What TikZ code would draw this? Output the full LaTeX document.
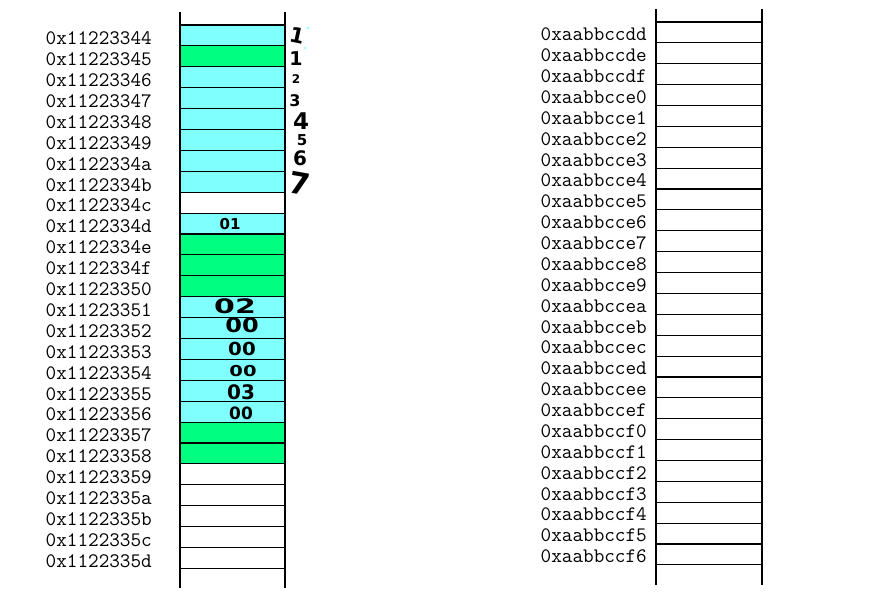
\documentclass[tikz,border=0pt]{standalone}
\usepackage{fontspec}
\newfontfamily\hand{DejaVu Sans}
\usetikzlibrary{positioning}
\definecolor{cellcyan}{HTML}{80FFFF}
\definecolor{cellgreen}{HTML}{00FF80}

\begin{document}
\begin{tikzpicture}[x=1pt, y=-1pt,
				cell/.style={draw, line width=1.1pt, minimum width=105pt, minimum height=20.9pt, inner sep=0pt, outer sep=0pt},
				addr/.style={font=\fontsize{20.6}{22}\ttfamily, inner sep=0pt},
				scrawl/.style={font=\hand\bfseries\fontsize{#1}{#1}\selectfont, inner sep=0pt},
				dot/.style={circle, fill=cellcyan, inner sep=0pt, minimum size=2.5pt}]
				\useasboundingbox (0,0) rectangle (876,597);
				\foreach \s/\c [count=\i from 0] in {44/cellcyan, 45/cellgreen, 46/cellcyan, 47/cellcyan, 48/cellcyan, 49/cellcyan, 4a/cellcyan, 4b/cellcyan, 4c/white, 4d/cellcyan, 4e/cellgreen, 4f/cellgreen, 50/cellgreen, 51/cellcyan, 52/cellcyan, 53/cellcyan, 54/cellcyan, 55/cellcyan, 56/cellcyan, 57/cellgreen, 58/cellgreen, 59/white, 5a/white, 5b/white, 5c/white, 5d/white}
				{
					\node[cell, fill=\c] (L\i) at (232.5, {35.45+20.9*\i}) {};
					\node[addr, left=28pt of L\i, yshift=-3pt] (la\i) {0x112233\s};
				}
				\foreach \s [count=\i from 0] in {dd, de, df, e0, e1, e2, e3, e4, e5, e6, e7, e8, e9, ea, eb, ec, ed, ee, ef, f0, f1, f2, f3, f4, f5, f6}
				{
					\node[cell, minimum width=106pt, minimum height=20.88pt] (R\i) at (709, {32.44+20.88*\i}) {};
					\node[addr, left=9pt of R\i, yshift=-2pt] (ra\i) {0xaabbcc\s};
				}
				\draw[line width=1.1pt] (L0.north west) -- ++(0,-13) (L0.north east) -- ++(0,-13);
				\draw[line width=1.1pt] (L25.south west) -- ++(0,20) (L25.south east) -- ++(0,20);
				\draw[line width=1.1pt] (R0.north west) -- ++(0,-13) (R0.north east) -- ++(0,-13);
				\draw[line width=1.1pt] (R25.south west) -- ++(0,20) (R25.south east) -- ++(0,20);
				\node at (297,36) (n1) [scrawl=21, rotate=-12] {1};
				\node at (296,59) (n2) [scrawl=19] {1};
				\node at (296,79) (n3) [scrawl=12] {2};
				\node at (295,101) (n4) [scrawl=16] {3};
				\node at (301,121) (n5) [scrawl=23] {4};
				\node at (302,140) (n6) [scrawl=15] {5};
				\node at (300,158) (n7) [scrawl=20] {6};
				\node at (300,184) (n8) [scrawl=30, rotate=-10] {7};
				\node at (308,28) (d1) [dot] {};
				\node at (305,48) (d2) [dot] {};
				\node at (230,224) (v1) [scrawl=15] {01};
				\node at (235,306) (v2) [scrawl=20, xscale=1.5] {02};
				\node at (242,325) (v3) [scrawl=20, xscale=1.2] {00};
				\node at (242,349) (v4) [scrawl=18, xscale=1.1] {00};
				\node at (243,371) (v5) [scrawl=15, xscale=1.3] {00};
				\node at (241,392) (v6) [scrawl=20] {03};
				\node at (241,413) (v7) [scrawl=17] {00};
			\end{tikzpicture}
\end{document}
